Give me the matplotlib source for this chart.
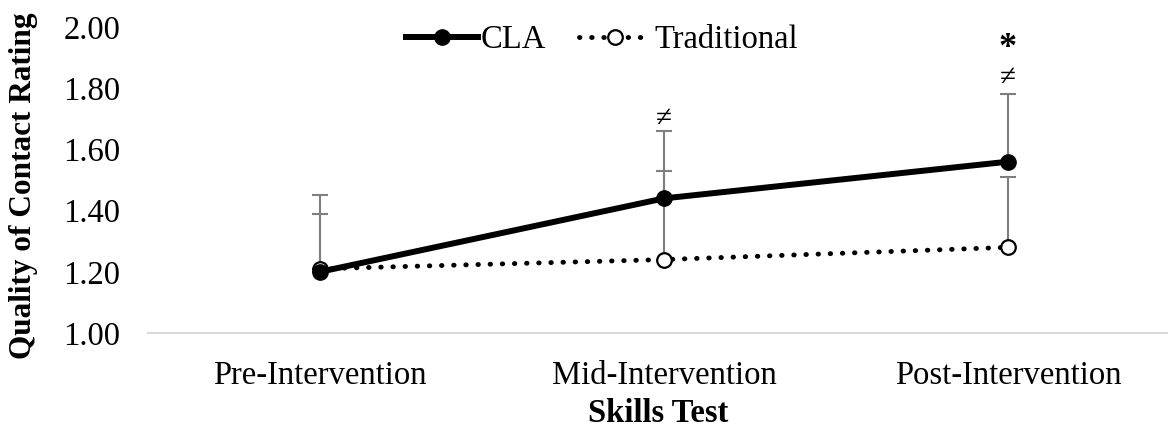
import matplotlib.pyplot as plt

categories = ["Pre-Intervention", "Mid-Intervention", "Post-Intervention"]
cla_mean = [1.20, 1.44, 1.56]
cla_sd = [0.25, 0.22, 0.22]
trad_mean = [1.21, 1.24, 1.28]
trad_sd = [0.18, 0.29, 0.23]
# significance marks: (category index, y value, symbol)
marks = [(1, 1.70, "\u2260"), (2, 1.833, "\u2260"), (2, 1.93, "*")]

plt.rcParams["font.family"] = ["Liberation Serif", "DejaVu Serif"]
plt.rcParams["font.size"] = 23.5

fig = plt.figure(figsize=(11.68, 4.30), dpi=100)
ax = fig.add_axes([0.1267, 0.2256, 0.8733, 0.7114])
x = range(len(categories))

ax.errorbar(x, cla_mean, yerr=[[0] * 3, cla_sd], fmt="none", ecolor="#7f7f7f",
            elinewidth=1.5, capsize=5.5, capthick=1.5, zorder=2)
ax.errorbar(x, trad_mean, yerr=[[0] * 3, trad_sd], fmt="none", ecolor="#7f7f7f",
            elinewidth=1.5, capsize=5.5, capthick=1.5, zorder=2)

ax.plot(x, cla_mean, color="black", lw=4.3, marker="o", ms=11, mfc="black",
        mec="black", label="CLA", zorder=4)
ax.plot(x, trad_mean, color="black", lw=3.5, linestyle=(0, (0.1, 2.4)),
        dash_capstyle="round", marker="o", ms=10.5, mfc="white", mec="black",
        mew=1.6, label="Traditional", zorder=3)

for i, yv, s in marks:
    if s == "*":
        ax.text(i, yv, s, ha="center", va="center", fontsize=26, fontweight="bold")
    else:
        ax.text(i, yv, s, ha="center", va="center", fontsize=21)

ax.set_ylim(1.0, 2.0)
ax.set_xlim(-0.5, 2.465)
ax.set_yticks([1.0, 1.2, 1.4, 1.6, 1.8, 2.0])
ax.set_yticklabels([f"{v:.2f}" for v in [1.0, 1.2, 1.4, 1.6, 1.8, 2.0]])
ax.set_xticks(list(x))
ax.set_xticklabels(categories)
ax.tick_params(axis="both", length=0)
ax.tick_params(axis="y", pad=20)
ax.tick_params(axis="x", pad=20)
for side in ["top", "right", "left"]:
    ax.spines[side].set_visible(False)
ax.spines["bottom"].set_color("#d9d9d9")
ax.spines["bottom"].set_linewidth(1.5)

ax.set_xlabel("Skills Test", fontweight="bold", labelpad=5)
ax.set_ylabel("Quality of Contact Rating", fontweight="bold", fontsize=22.5)
ax.yaxis.set_label_coords(-0.108, 0.48)

ax.legend(loc="upper center", bbox_to_anchor=(0.445, 1.05), ncol=2, frameon=False,
          handlelength=2.2, handletextpad=0.1, columnspacing=1.0, borderaxespad=0)

fig.savefig("out.png", dpi=100)
